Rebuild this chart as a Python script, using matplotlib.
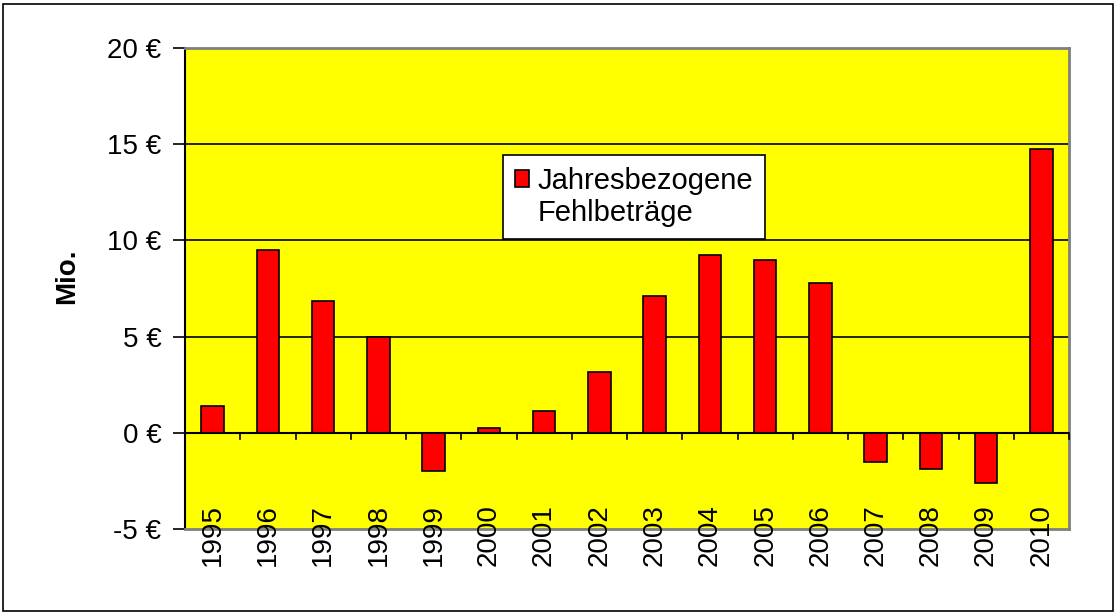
import matplotlib
matplotlib.use("Agg")
import matplotlib.pyplot as plt
from matplotlib.patches import Rectangle
import matplotlib.transforms as mtransforms

years = ["1995", "1996", "1997", "1998", "1999", "2000", "2001", "2002",
         "2003", "2004", "2005", "2006", "2007", "2008", "2009", "2010"]
values = [1.4, 9.5, 6.85, 5.0, -1.97, 0.25, 1.14, 3.16,
          7.1, 9.22, 8.96, 7.77, -1.5, -1.87, -2.6, 14.77]
yticks = [-5, 0, 5, 10, 15, 20]
ytick_labels = ["-5 €", "0 €", "5 €", "10 €", "15 €", "20 €"]
legend_lines = ["Jahresbezogene", "Fehlbeträge"]
ylabel = "Mio."

plt.rcParams['font.family'] = ['Liberation Sans', 'DejaVu Sans']

W, H = 1117, 615
fig = plt.figure(figsize=(W / 100, H / 100), dpi=100)
fig.patch.set_facecolor("white")

# figure border
fig.add_artist(Rectangle((3 / W, 4 / H), (W - 7) / W, (H - 8) / H,
                         transform=fig.transFigure, fill=False,
                         edgecolor="black", linewidth=1.2))

left, right, top, bottom = 185, 1069, 48, 529
ax = fig.add_axes([left / W, 1 - bottom / H, (right - left) / W, (bottom - top) / H])
ax.set_facecolor("#FFFF00")

x = list(range(len(years)))
bars = ax.bar(x, values, width=0.41, color="#FF0000", edgecolor="black",
              linewidth=1.2, zorder=3)

ax.set_xlim(-0.5, len(years) - 0.5)
ax.set_ylim(-5, 20)
ax.set_yticks(yticks)
ax.set_yticklabels(ytick_labels, fontsize=20)
ax.tick_params(axis="y", direction="out", length=9, width=1.2, pad=8)

# gridlines
for v in [5, 10, 15]:
    ax.axhline(v, color="black", linewidth=1.2, zorder=1)
# zero axis line with category ticks
ax.axhline(0, color="black", linewidth=1.5, zorder=4)
ax.set_xticks([])
for k in range(1, len(years) + 1):
    ax.plot([k - 0.5, k - 0.5], [0, -0.3], color="black", linewidth=1.2,
            zorder=4, clip_on=False)

# category labels
trans = mtransforms.blended_transform_factory(ax.transData, ax.transAxes)
for xi, lab in zip(x, years):
    ax.text(xi, (bottom - 504) / (bottom - top), lab, rotation=90, ha="center",
            va="top", fontsize=20, transform=trans, zorder=5)

for side in ["top", "right", "bottom"]:
    ax.spines[side].set_color("#808080")
    ax.spines[side].set_linewidth(2)
ax.spines["left"].set_color("black")
ax.spines["left"].set_linewidth(1.5)

ax.set_ylabel(ylabel, fontsize=20, fontweight="bold")
ax.yaxis.set_label_coords((80 - left) / (right - left), (bottom - 276) / (bottom - top))

handles = [Rectangle((0, 0), 1, 1, facecolor="#FF0000", edgecolor="black", linewidth=1.2),
           Rectangle((0, 0), 1, 1, facecolor="none", edgecolor="none")]
leg = ax.legend(handles, legend_lines, loc="upper left",
                bbox_to_anchor=((503 - left) / (right - left), 1 - (155 - top) / (bottom - top)),
                fontsize=21, frameon=True, fancybox=False, framealpha=1,
                edgecolor="black", handlelength=0.5, handleheight=0.5,
                handletextpad=0.28, labelspacing=0.15, borderpad=0.4,
                borderaxespad=0)
leg.get_frame().set_linewidth(1.2)
leg.set_zorder(6)

fig.savefig("out.png", dpi=100)
